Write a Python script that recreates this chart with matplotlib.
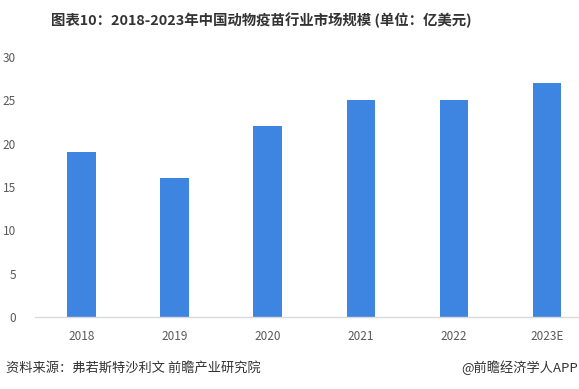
import matplotlib
matplotlib.use("Agg")
import matplotlib.pyplot as plt

plt.rcParams['font.family'] = ['Noto Sans CJK SC', 'DejaVu Sans']

# data
years = ["2018", "2019", "2020", "2021", "2022", "2023E"]
market_size = [19, 16, 22, 25, 25, 27]
yticks = [0, 5, 10, 15, 20, 25, 30]

fig = plt.figure(figsize=(5.79, 3.89), dpi=100)
ax = fig.add_axes([0.061, 0.185, 0.939, 0.668])

x = range(len(years))
ax.bar(x, market_size, width=0.31, color="#3d85e0", zorder=2)

ax.set_xlim(-0.5, 5.344)
ax.set_ylim(0, 30)
ax.set_yticks(yticks)
ax.set_xticks(list(x))
ax.set_xticklabels(years)

for s in ["top", "right", "left"]:
    ax.spines[s].set_visible(False)
ax.spines["bottom"].set_color("#d9d9d9")
ax.spines["bottom"].set_linewidth(1.0)
ax.tick_params(axis="both", length=0, labelsize=8.5, labelcolor="#595959")
ax.tick_params(axis="x", pad=9)
ax.tick_params(axis="y", pad=14)

fig.text(0.451, 0.948, "图表10：2018-2023年中国动物疫苗行业市场规模 (单位：亿美元)",
         ha="center", va="center", fontsize=10.4, fontweight="bold", color="#333333")
fig.text(0.011, 0.054, "资料来源：弗若斯特沙利文 前瞻产业研究院",
         ha="left", va="center", fontsize=9.5, color="#333333")
fig.text(0.998, 0.054, "@前瞻经济学人APP",
         ha="right", va="center", fontsize=9.5, color="#333333")

plt.savefig("out.png", dpi=100)
